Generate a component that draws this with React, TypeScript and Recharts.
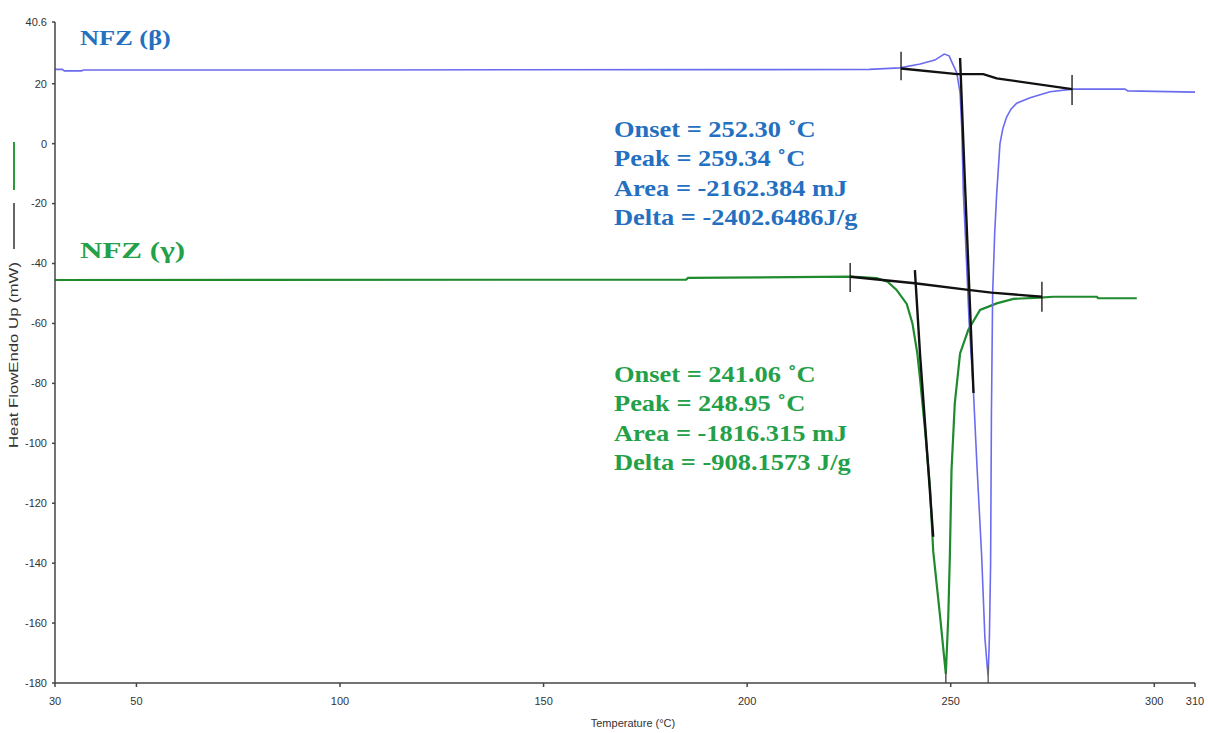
import { ComposedChart, Line, XAxis, YAxis } from "recharts";

// temperature (°C) / heat flow (mW)
const betaT = [30, 31.8, 32.3, 36.5, 37, 100, 200, 230, 237.5, 242.5, 246.1, 248.4, 249.6, 250.6, 251.5, 252.3, 252.7, 253.1, 253.5, 254.5, 255.6, 256.5, 257.6, 258.4, 259.0, 259.2, 259.5, 259.8, 260.0, 260.3, 260.8, 261.3, 262.1, 262.8, 263.7, 264.8, 266.2, 269.5, 274.4, 280, 292.8, 293.5, 310];
const betaV = [24.8, 24.8, 24.3, 24.3, 24.6, 24.6, 24.7, 24.8, 25.3, 26.6, 27.9, 29.9, 29.3, 26.3, 23.6, 16.9, 5.6, -16.5, -27.8, -58.9, -83.2, -108.9, -137.6, -165, -175, -177.5, -165, -140, -90, -50, -30, -16.5, 0, 5, 8.8, 11.5, 13.5, 15.3, 17.3, 18.2, 18.2, 17.6, 17.2];

const gammaT = [30, 185, 185.5, 225.3, 231.8, 234.5, 236.7, 239.2, 240.6, 241.8, 242.5, 243.7, 244.9, 245.7, 247.4, 248.8, 249.4, 249.8, 250.2, 251.0, 252.3, 254.3, 257.2, 261.3, 265.4, 271.9, 275.2, 285.9, 286.2, 295.7];
const gammaV = [-45.5, -45.4, -44.8, -44.4, -44.9, -46.1, -48.8, -53.5, -60, -70, -78.9, -95.6, -114.5, -136, -157.9, -177, -157.9, -137, -108.9, -86.7, -70, -62.2, -55.5, -53.3, -51.8, -51.4, -51.1, -51.1, -51.6, -51.6];

// baseline / tangent construction lines
const betaBaseT = [237.8, 251.6, 258.0, 261.3, 279.8];
const betaBaseV = [25.1, 23.2, 23.2, 21.8, 18.2];
const betaTanT = [252.3, 253.4, 255.6];
const betaTanV = [28.6, -10, -83.2];
const betaTickLeftT = [237.8, 237.8];
const betaTickLeftV = [30.7, 21.2];
const betaTickRightT = [279.8, 279.8];
const betaTickRightV = [22.9, 12.9];

const gammaBaseT = [225.3, 241.2, 254.3, 260, 272.4];
const gammaBaseV = [-44.4, -46.6, -48.8, -49.7, -51.1];
const gammaTanT = [241.2, 242.5, 245.7];
const gammaTanV = [-42.2, -71, -131.2];
const gammaTickLeftT = [225.3, 225.3];
const gammaTickLeftV = [-39.8, -49.5];
const gammaTickRightT = [272.4, 272.4];
const gammaTickRightV = [-46.1, -56.1];

const betaPeakT = [259.2, 259.2];
const betaPeakV = [-174, -180];
const gammaPeakT = [248.8, 248.8];
const gammaPeakV = [-176, -180];

const xTicks = [30, 50, 100, 150, 200, 250, 300, 310];
const yTicks = [-180, -160, -140, -120, -100, -80, -60, -40, -20, 0, 20, 40.6];

const betaLines = ["Onset = 252.30 ˚C", "Peak = 259.34 ˚C", "Area = -2162.384 mJ", "Delta = -2402.6486J/g"];
const gammaLines = ["Onset = 241.06 ˚C", "Peak = 248.95 ˚C", "Area = -1816.315 mJ", "Delta = -908.1573 J/g"];

const pts = (t: number[], v: number[]) => t.map((x, i) => ({ t: x, v: v[i] }));

const BLUE = "#6b6bf0";
const GREEN = "#1f8a2e";
const BLUE_TXT = "#2470c0";
const GREEN_TXT = "#24a048";
const tickFont = { fontSize: 11, fill: "#333", fontFamily: "'Liberation Sans Narrow', 'Liberation Sans', Arial, sans-serif" };

const App = () => {
  const black = [
    pts(betaBaseT, betaBaseV),
    pts(betaTanT, betaTanV),
    pts(betaTickLeftT, betaTickLeftV),
    pts(betaTickRightT, betaTickRightV),
    pts(gammaBaseT, gammaBaseV),
    pts(gammaTanT, gammaTanV),
    pts(gammaTickLeftT, gammaTickLeftV),
    pts(gammaTickRightT, gammaTickRightV),
  ];

  return (
    <div style={{ position: "absolute", left: 0, top: 0, width: 1208, height: 733, background: "#fff" }}>
      <ComposedChart width={1208} height={733} margin={{ top: 22, right: 13, left: 0, bottom: 0 }}>
        <XAxis
          dataKey="t"
          type="number"
          domain={[30, 310]}
          ticks={xTicks}
          interval={0}
          height={50}
          tick={tickFont}
          tickSize={4}
          tickMargin={10}
          stroke="#444"
          strokeWidth={1.5}
          allowDataOverflow
        />
        <YAxis
          dataKey="v"
          type="number"
          domain={[-180, 40.6]}
          ticks={yTicks}
          interval={0}
          width={55}
          tick={tickFont}
          tickSize={3}
          tickMargin={5}
          stroke="#444"
          strokeWidth={1.5}
          allowDataOverflow
        />
        <Line data={pts(gammaT, gammaV)} dataKey="v" type="linear" stroke={GREEN} strokeWidth={2.2} dot={false} isAnimationActive={false} />
        <Line data={pts(betaT, betaV)} dataKey="v" type="linear" stroke={BLUE} strokeWidth={1.6} dot={false} isAnimationActive={false} />
        <Line data={pts(betaPeakT, betaPeakV)} dataKey="v" type="linear" stroke="#666" strokeWidth={1.5} dot={false} isAnimationActive={false} />
        <Line data={pts(gammaPeakT, gammaPeakV)} dataKey="v" type="linear" stroke="#555" strokeWidth={1.5} dot={false} isAnimationActive={false} />
        {black.map((d, i) => (
          <Line key={i} data={d} dataKey="v" type="linear" stroke="#111" strokeWidth={i % 4 < 2 ? 2.4 : 1.3} dot={false} isAnimationActive={false} />
        ))}
      </ComposedChart>

      <svg width={1208} height={733} style={{ position: "absolute", left: 0, top: 0, pointerEvents: "none" }}>
        <line x1={14} y1={142} x2={14} y2={190} stroke="#2a9a3a" strokeWidth={2} />
        <line x1={14} y1={203} x2={14} y2={249} stroke="#666" strokeWidth={2} />
        <text
          x={18}
          y={355}
          transform="rotate(-90 18 355)"
          textAnchor="middle"
          fontSize={12}
          fill="#333"
          fontFamily="'Liberation Sans', Arial, sans-serif"
          textLength={186}
          lengthAdjust="spacingAndGlyphs"
        >
          Heat FlowEndo Up (mW)
        </text>
        <text x={633} y={727} textAnchor="middle" fontSize={11} fill="#333" fontFamily="'Liberation Sans Narrow', 'Liberation Sans', Arial, sans-serif">
          Temperature (°C)
        </text>

        <g fontFamily="'Liberation Serif', 'Times New Roman', serif" fontWeight="bold">
          <g transform="translate(80 45) scale(1.32 1)">
            <text x={0} y={0} fontSize={20} fill={BLUE_TXT}>NFZ (β)</text>
          </g>
          <g transform="translate(80 258) scale(1.35 1)">
            <text x={0} y={0} fontSize={23} fill={GREEN_TXT}>NFZ (γ)</text>
          </g>
          <g transform="translate(614 0) scale(1.15 1)">
            {betaLines.map((s, i) => (
              <text key={s} x={0} y={137 + i * 29.5} fontSize={23} fill={BLUE_TXT}>{s}</text>
            ))}
            {gammaLines.map((s, i) => (
              <text key={s} x={0} y={382 + i * 29.4} fontSize={23} fill={GREEN_TXT}>{s}</text>
            ))}
          </g>
        </g>
      </svg>
    </div>
  );
};

export default App;
